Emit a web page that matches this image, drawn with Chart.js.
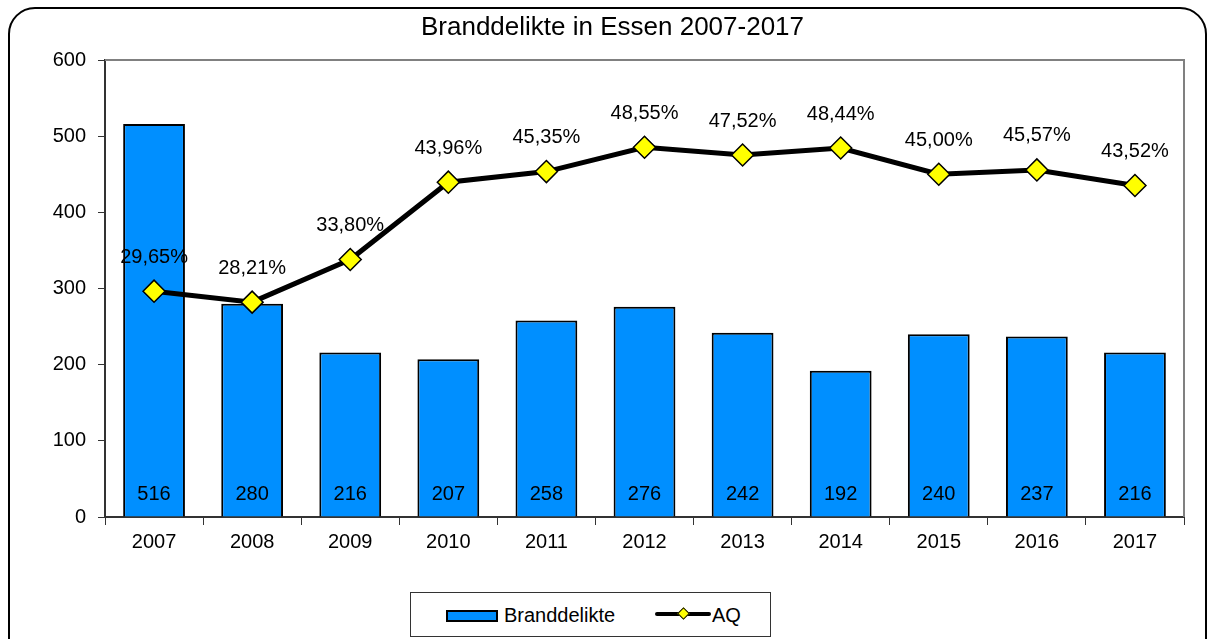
<!DOCTYPE html>
<html>
<head>
<meta charset="utf-8">
<script src="https://cdn.jsdelivr.net/npm/chart.js@4"></script>
<style>
  body { margin: 0; width: 1210px; height: 639px; overflow: hidden; background: #fff; font-family: "Liberation Sans", Arial, sans-serif; }
  #frame { position: absolute; left: 8px; top: 7px; width: 1195px; height: 700px; border: 2px solid #000; border-radius: 27px; }
  #wrap { position: absolute; left: 0; top: 0; width: 1210px; height: 639px; }
  #title { position: absolute; top: 11px; left: 0; width: 1225px; text-align: center; font-size: 26px; line-height: 30px; color: #000; }
  #legend { position: absolute; left: 410px; top: 592px; width: 359px; height: 43px; border: 1px solid #333; background: #fff; font-size: 20px; }
  .lg { position: absolute; top: 10px; line-height: 24px; }
  .sw-bar { position: absolute; left: 35px; top: 17px; width: 48px; height: 8px; background: #008FFF; border: 2px solid #000; }
  .sw-line { position: absolute; left: 244px; top: 19px; width: 56px; height: 4px; background: #000; border-radius: 2px; }
  .sw-dia { position: absolute; left: 268px; top: 16px; width: 7px; height: 7px; background: #ffff00; border: 1px solid #000; transform: rotate(45deg); }
</style>
</head>
<body>
<div id="frame"></div>
<div id="wrap"><canvas id="chart" width="1210" height="639"></canvas></div>
<div id="title">Branddelikte in Essen 2007-2017</div>
<div id="legend">
  <div class="sw-bar"></div><div class="lg" style="left:93px">Branddelikte</div>
  <div class="sw-line"></div><div class="sw-dia"></div><div class="lg" style="left:301px">AQ</div>
</div>
<script>
// les donnees
let years = ['2007','2008','2009','2010','2011','2012','2013','2014','2015','2016','2017'];
let branddelikte = [516, 280, 216, 207, 258, 276, 242, 192, 240, 237, 216];
let aq = [29.65, 28.21, 33.80, 43.96, 45.35, 48.55, 47.52, 48.44, 45.00, 45.57, 43.52];
let yTicks = [0, 100, 200, 300, 400, 500, 600];

let fontFamily = '"Liberation Sans", Arial, sans-serif';

// cadre gris autour de la zone de trace
let plotBorder = {
    id: 'plotBorder',
    beforeDatasetsDraw(chart) {
        let a = chart.chartArea;
        let ctx = chart.ctx;
        ctx.save();
        ctx.strokeStyle = '#808080';
        ctx.lineWidth = 2;
        ctx.beginPath();
        ctx.moveTo(a.left, a.top);
        ctx.lineTo(a.right, a.top);
        ctx.lineTo(a.right, a.bottom);
        ctx.stroke();
        ctx.restore();
    }
};

// les etiquettes des valeurs
let valueLabels = {
    id: 'valueLabels',
    afterDatasetsDraw(chart) {
        let ctx = chart.ctx;
        let base = chart.scales.y.getPixelForValue(0);
        ctx.save();
        ctx.fillStyle = '#000';
        ctx.font = '20px ' + fontFamily;
        ctx.textAlign = 'center';
        ctx.textBaseline = 'middle';
        chart.getDatasetMeta(0).data.forEach((el, i) => {
            ctx.fillText(String(branddelikte[i]), el.x, base - 23);
        });
        chart.getDatasetMeta(1).data.forEach((pt, i) => {
            ctx.fillText(aq[i].toFixed(2).replace('.', ',') + '%', pt.x, pt.y - 34);
        });
        ctx.restore();
    }
};

let ctx = document.getElementById('chart');
let chart = new Chart(ctx, {
    data: {
        labels: years,
        datasets: [{
            type: 'bar',
            label: 'Branddelikte',
            data: branddelikte,
            backgroundColor: '#008FFF',
            borderColor: '#000',
            borderWidth: 2,
            barPercentage: 0.63,
            categoryPercentage: 1,
            yAxisID: 'y',
            order: 2
        }, {
            type: 'line',
            label: 'AQ',
            data: aq,
            borderColor: '#000',
            borderWidth: 5,
            pointStyle: 'rectRot',
            pointRadius: 11,
            pointBackgroundColor: '#ffff00',
            pointBorderColor: '#000',
            pointBorderWidth: 1.5,
            tension: 0,
            yAxisID: 'y2',
            order: 1
        }]
    },
    options: {
        responsive: false,
        animation: false,
        layout: { padding: { left: 0, right: 26, top: 60, bottom: 82 } },
        plugins: {
            legend: { display: false },
            title: { display: false },
            tooltip: { enabled: false }
        },
        scales: {
            x: {
                offset: true,
                grid: { offset: true, drawOnChartArea: false, tickLength: 8, color: '#333', lineWidth: 1 },
                border: { color: '#333', width: 2 },
                ticks: { color: '#000', font: { family: fontFamily, size: 20 }, padding: 5 },
                afterFit(scale) { scale.height = 40; }
            },
            y: {
                min: 0,
                max: 600,
                afterBuildTicks(scale) { scale.ticks = yTicks.map(v => ({ value: v })); },
                grid: { drawOnChartArea: false, tickLength: 7, color: '#333', lineWidth: 1 },
                border: { color: '#333', width: 2 },
                ticks: { color: '#000', font: { family: fontFamily, size: 20 }, padding: 12 },
                afterFit(scale) { scale.width = 105; }
            },
            y2: {
                display: false,
                min: 0,
                max: 60
            }
        }
    },
    plugins: [plotBorder, valueLabels]
});
</script>
</body>
</html>
